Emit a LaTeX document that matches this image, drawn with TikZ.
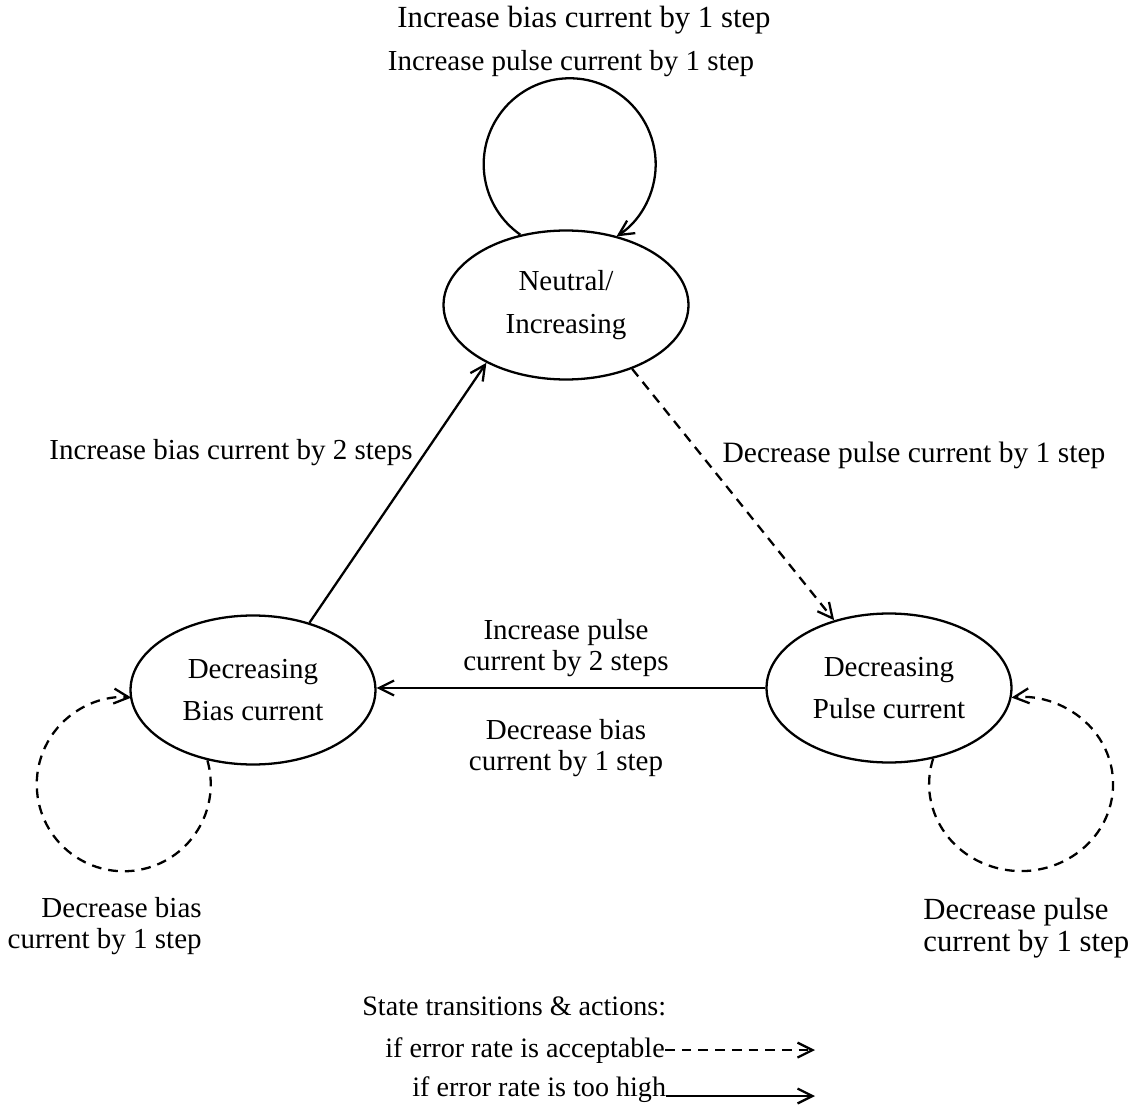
\documentclass[tikz,border=0pt]{standalone}
\usepackage{fontspec}
\setmainfont{Liberation Serif}
\usetikzlibrary{shapes.geometric,arrows.meta}
\begin{document}
\begin{tikzpicture}[x=0.02cm,y=0.02cm,
  state/.style={ellipse, draw, line width=1.3pt, minimum width=4.9cm,
    minimum height=2.98cm, inner sep=0pt, align=center,
    font=\fontsize{16.5}{24}\selectfont},
  lbl/.style={inner sep=0pt, font=\fontsize{16.5}{17.5}\selectfont},
  biglbl/.style={lbl, font=\fontsize{17.5}{18.5}\selectfont},
  keylbl/.style={inner sep=0pt, anchor=base west, font=\fontsize{16}{17}\selectfont},
  conn/.style={line width=1.3pt,
    -{Straight Barb[length=8.5pt,width=8.5pt,line width=1.3pt]}},
  okconn/.style={conn, dash pattern=on 5.5pt off 4pt}]
\fill[white] (0,0) rectangle (1133,-1108);
\useasboundingbox (0,0) rectangle (1133,-1108);

% states
\node[state] (neutral) at (566,-305) {Neutral/\\Increasing};
\node[state] (bias)    at (253,-690) {Decreasing\\Bias current};
\node[state] (pulse)   at (889,-688) {Decreasing\\Pulse current};

% action labels
\node[biglbl] (tA) at (584,-20)  {Increase bias current by 1 step};
\node[lbl] (tB) at (571,-64)  {Increase pulse current by 1 step};
\node[lbl] (tC) at (231,-453) {Increase bias current by 2 steps};
\node[lbl, font=\fontsize{16.8}{17.5}\selectfont] (tD) at (914,-455) {Decrease pulse current by 1 step};
\node[lbl, align=center] (tE) at (566,-648) {Increase pulse\\current by 2 steps};
\node[lbl, align=center] (tF) at (566,-748) {Decrease bias\\current by 1 step};
\node[lbl, align=right, anchor=east] (tG) at (202,-926) {Decrease bias\\current by 1 step};
\node[biglbl, align=left, anchor=west] (tH) at (923,-928) {Decrease pulse\\current by 1 step};

% transitions
\draw[conn] (bias.50) -- (neutral.216);
\draw[okconn] (neutral.316) -- (pulse.129);
\draw[conn] (pulse.west) -- (pulse.west -| bias.east);

% self loops
\draw[conn] (neutral.123) arc[start angle=235, end angle=-57, radius=86];
\draw[okconn] (bias.237) arc[start angle=16, end angle=-275, radius=87];
\draw[okconn] (pulse.302) arc[start angle=163, end angle=456, x radius=92, y radius=87];

% legend
\node[keylbl] (lg0) at (362,-1015) {State transitions \& actions:};
\node[keylbl] (lg1) at (385,-1057) {if error rate is acceptable};
\node[keylbl] (lg2) at (412,-1096) {if error rate is too high};
\coordinate (lgend) at (815,-1050);
\draw[okconn] (lg1.east) -- (lg1.east -| lgend);
\draw[conn] (lg2.base east) -- (lg2.base east -| lgend);
\end{tikzpicture}
\end{document}
